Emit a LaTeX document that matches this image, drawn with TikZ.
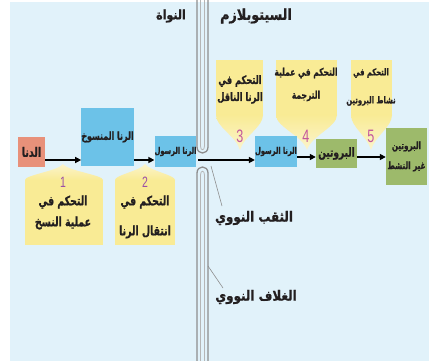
\documentclass[tikz,border=0pt]{standalone}
\usepackage{fontspec}
\usetikzlibrary{arrows.meta}
\TeXXeTstate=1
\newfontfamily\arfont[Script=Arabic,FakeStretch=0.72,FakeBold=0.9]{DejaVu Sans}
\newfontfamily\arwide[Script=Arabic,FakeStretch=0.85,FakeBold=0.9]{DejaVu Sans}
\newfontfamily\numfont[FakeStretch=0.7]{Liberation Sans}
\newcommand{\AR}[1]{\beginR #1\endR}
\definecolor{bg}{HTML}{E1F2FA}
\definecolor{dnac}{HTML}{E8917A}
\definecolor{bluec}{HTML}{6CC2E8}
\definecolor{greenc}{HTML}{9DBA6B}
\definecolor{yel}{HTML}{F9EB95}
\definecolor{yelf}{HTML}{FBF4CC}
\definecolor{txt}{HTML}{231F20}
\definecolor{numa}{HTML}{9B4FA6}
\definecolor{numb}{HTML}{C4589C}
\definecolor{memb}{HTML}{8E8E8E}
\definecolor{membl}{HTML}{B5B5B5}
\newcommand{\calldown}[6]{%
  \fill[yel] (#1,#3) rectangle (#2,{#4+0.5});
  \shade[top color=yel,bottom color=yelf] (#1,#4) -- (#2,#4) .. controls (#2,{#4+12}) and ({#5+4},{#6-14}) .. (#5,#6) .. controls ({#5-4},{#6-14}) and (#1,{#4+12}) .. (#1,#4) -- cycle;}
\newcommand{\callup}[6]{%
  \fill[yel] (#1,#3) rectangle (#2,{#4-0.5});
  \shade[bottom color=yel,top color=yelf] (#1,#4) -- (#2,#4) .. controls (#2,{#4-5}) and ({#5+5},{#6+7}) .. (#5,#6) .. controls ({#5-5},{#6+7}) and (#1,{#4-5}) .. (#1,#4) -- cycle;}
\newcommand{\fs}[2]{\fontsize{#1}{#2}\selectfont}
\begin{document}
\begin{tikzpicture}[x=1pt,y=-1pt,
  lbl/.style={text=txt, inner sep=0pt, align=center},
  ctext/.style={text=txt, inner sep=0pt, align=center},
  title/.style={text=txt, inner sep=0pt},
  side/.style={font=\arwide\bfseries\fs{14}{16}, text=txt, inner sep=0pt},
  numA/.style={font=\numfont\fs{15}{15}, text=numa, inner sep=0pt},
  numB/.style={font=\numfont\fs{18}{18}, text=numb, inner sep=0pt},
  arr/.style={draw=black, line width=1.6pt, -{Triangle[length=6pt,width=6pt]}},
  leader/.style={draw=memb, line width=0.6pt},
  outer/.style={draw=memb, line width=1.3pt},
  inner/.style={draw=membl, line width=0.8pt}]
\useasboundingbox (0,0) rectangle (429,361);
\fill[bg] (10,2) rectangle (429,361);
% nuclear envelope
\draw[outer] (197,0) -- (197,147) .. controls (197,155) and (208,155) .. (208,147) -- (208,0);
\draw[inner] (200.5,0) -- (200.5,146) .. controls (200.5,151) and (204.5,151) .. (204.5,146) -- (204.5,0);
\draw[outer] (197,361) -- (197,173) .. controls (197,165) and (208,165) .. (208,173) -- (208,361);
\draw[inner] (200.5,361) -- (200.5,175) .. controls (200.5,170) and (204.5,170) .. (204.5,175) -- (204.5,361);
% callouts
\callup{25}{103}{245}{180}{63}{164}
\callup{115}{175}{245}{180}{145}{164}
\calldown{216}{263}{60}{115}{240}{150}
\calldown{276}{337}{60}{115}{307}{150}
\calldown{351}{392}{60}{115}{371}{150}
% titles
\node[title, font=\arwide\bfseries\fs{13}{14}] (nuc) at (171,16) {\AR{النواة}};
\node[title, font=\arwide\bfseries\fs{15}{16}] (cyto) at (256,16) {\AR{السيتوبلازم}};
% boxes
\node[lbl, font=\arfont\bfseries\fs{13}{15}, fill=dnac, minimum width=27pt, minimum height=30pt] (dna) at (31.5,152) {\AR{الدنا}};
\node[lbl, font=\arfont\bfseries\fs{11}{13}, fill=bluec, minimum width=51pt, minimum height=58pt] (pre) at (107.5,137) {\AR{الرنا المنسوخ}};
\node[lbl, font=\arfont\bfseries\fs{9.3}{10}, fill=bluec, minimum width=39pt, minimum height=31pt] (mrnaA) at (175.5,151.5) {\AR{الرنا الرسول}};
\node[lbl, font=\arfont\bfseries\fs{9.3}{10}, fill=bluec, minimum width=38pt, minimum height=31pt] (mrnaB) at (276,151.5) {\AR{الرنا الرسول}};
\node[lbl, font=\arfont\bfseries\fs{12.5}{14}, fill=greenc, minimum width=41pt, minimum height=29pt] (prot) at (336.5,153.5) {\AR{البروتين}};
\node[lbl, font=\arfont\bfseries\fs{10}{20}, fill=greenc, minimum width=41pt, minimum height=57pt] (inact) at (406.5,156.5) {\AR{البروتين}\\\AR{غير النشط}};
% arrows
\coordinate (pore) at (198,160);
\draw[arr] (dna.east |- 0,160) -- (pre.west |- 0,160);
\draw[arr] (pre.east |- 0,160) -- (mrnaA.west |- 0,160);
\draw[arr] (pore) -- (mrnaB.west |- 0,160);
\draw[arr] (mrnaB.east |- 0,157) -- (prot.west |- 0,157);
\draw[arr] (prot.east |- 0,157) -- (inact.west |- 0,157);
% callout numbers and texts
\node[numA] (n1) at (63,182) {1};
\node[numA] (n2) at (145,182) {2};
\node[numB] (n3) at (240,136) {3};
\node[numB] (n4) at (306,136) {4};
\node[numB] (n5) at (371,136) {5};
\node[ctext, font=\arfont\bfseries\fs{13}{21}] (c1) at (63,212.5) {\AR{التحكم في}\\\AR{عملية النسخ}};
\node[ctext, font=\arfont\bfseries\fs{13}{30}] (c2) at (145,217) {\AR{التحكم في}\\\AR{انتقال الرنا}};
\node[ctext, font=\arfont\bfseries\fs{11.5}{17}] (c3) at (240,89.5) {\AR{التحكم في}\\\AR{الرنا الناقل}};
\node[ctext, font=\arfont\bfseries\fs{10.5}{23}] (c4) at (306,84.5) {\AR{التحكم في عملية}\\\AR{الترجمة}};
\node[ctext, font=\arfont\bfseries\fs{9.5}{28}] (c5) at (371,87) {\AR{التحكم في}\\\AR{نشاط البروتين}};
% side labels
\node[side] (poreLbl) at (254,218) {\AR{الثقب النووي}};
\node[side] (envLbl) at (256,297) {\AR{الغلاف النووي}};
\coordinate (poreTip) at (211,166);
\coordinate (poreEnd) at (222,206);
\coordinate (envTip) at (208,266);
\coordinate (envEnd) at (223,288);
\draw[leader] (poreTip) -- (poreEnd);
\draw[leader] (envTip) -- (envEnd);
\end{tikzpicture}
\end{document}
